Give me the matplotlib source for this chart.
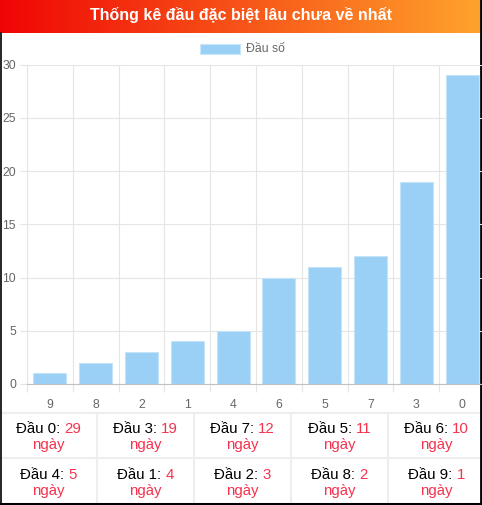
import numpy as np
import matplotlib
matplotlib.use("Agg")
import matplotlib.pyplot as plt
from matplotlib.patches import Rectangle
from matplotlib.lines import Line2D

plt.rcParams['font.family'] = ['Liberation Sans', 'DejaVu Sans']

# chart data
title = "Thống kê đầu đặc biệt lâu chưa về nhất"
legend_label = "Đầu số"
heads = ['9', '8', '2', '1', '4', '6', '5', '7', '3', '0']
days = [1, 2, 3, 4, 5, 10, 11, 12, 19, 29]
y_ticks = [0, 5, 10, 15, 20, 25, 30]

W, H = 482, 505
BAR = '#9ad0f5'
GRID = '#e5e5e5'
TXT = '#666666'
RED = '#f5334f'

fig = plt.figure(figsize=(W / 100, H / 100), dpi=100)

# background layer in pixel coordinates
bg = fig.add_axes([0, 0, 1, 1], zorder=0)
bg.set_axis_off()
grad = np.linspace(0, 1, 256)
c0 = np.array([0.94, 0.02, 0.02])
c1 = np.array([1.0, 0.64, 0.17])
img = c0[None, :] * (1 - grad[:, None]) + c1[None, :] * grad[:, None]
bg.imshow(img[None, :, :], extent=(0, W, 33, 0), aspect='auto')
bg.set_xlim(0, W)
bg.set_ylim(H, 0)
bg.text(W / 2, 15, title, color='white', fontsize=11.5, fontweight='bold',
        ha='center', va='center')

# legend
bg.add_patch(Rectangle((200, 44), 40, 10, fc=BAR, ec='#c9e6fb', lw=0.8))
bg.text(246, 49, legend_label, color=TXT, fontsize=8.8, ha='left', va='center')

# table grid
for y in (413, 458):
    bg.add_line(Line2D([0, W], [y, y], color='#eeeeee', lw=1.5))
for x in (97, 194, 291, 388):
    bg.add_line(Line2D([x, x], [413, 503], color='#eeeeee', lw=1.5))

# borders
bg.add_line(Line2D([0.5, 0.5], [33, H], color='black', lw=1.2))
bg.add_line(Line2D([W - 1, W - 1], [0, H], color='black', lw=2))
bg.add_line(Line2D([0, W], [H - 1.5, H - 1.5], color='black', lw=2.2))

# bar chart
ax = fig.add_axes([27 / W, 1 - 384 / H, 458 / W, (384 - 64.5) / H], zorder=1)
ax.patch.set_alpha(0)
x = np.arange(len(heads))
ax.bar(x, days, width=0.72, color=BAR, edgecolor='#c4e3f9', linewidth=0.8, zorder=2)
ax.set_xlim(-0.5, len(heads) - 0.5)
ax.set_ylim(0, 30)
ax.set_yticks(y_ticks)
ax.set_xticks(x)
ax.set_xticklabels(heads)
ax.set_xticks(np.arange(-0.5, len(heads), 1), minor=True)
ax.tick_params(axis='x', which='major', length=0, pad=11, labelsize=8.8, labelcolor=TXT)
ax.tick_params(axis='x', which='minor', length=5.8, color=GRID, width=0.8)
ax.tick_params(axis='y', length=5, color=GRID, width=0.8, pad=3, labelsize=8.8, labelcolor=TXT)
ax.grid(axis='y', color=GRID, lw=0.8, zorder=0)
ax.grid(axis='x', which='minor', color=GRID, lw=0.8, zorder=0)
for s in ('top', 'right'):
    ax.spines[s].set_visible(False)
ax.spines['left'].set_color(GRID)
ax.spines['left'].set_linewidth(0.8)
ax.spines['bottom'].set_color('#c0c0c0')
ax.spines['bottom'].set_linewidth(0.8)

# table of heads, longest first
order = list(zip(heads, days))[::-1]
renderer = fig.canvas.get_renderer()
for i, (h, d) in enumerate(order):
    row, col = divmod(i, 5)
    cx = (col + 0.5) * 97
    base = 433 + row * 46
    t1 = bg.text(0, base, f"Đầu {h}: ", color='black', fontsize=10.8, va='baseline')
    t2 = bg.text(0, base, f"{d}", color=RED, fontsize=10.8, va='baseline')
    w1 = t1.get_window_extent(renderer).width
    w2 = t2.get_window_extent(renderer).width
    left = cx - (w1 + w2) / 2
    t1.set_x(left)
    t2.set_x(left + w1)
    bg.text(cx, base + 16, "ngày", color=RED, fontsize=10.8, ha='center', va='baseline')

fig.savefig('out.png', dpi=100)
